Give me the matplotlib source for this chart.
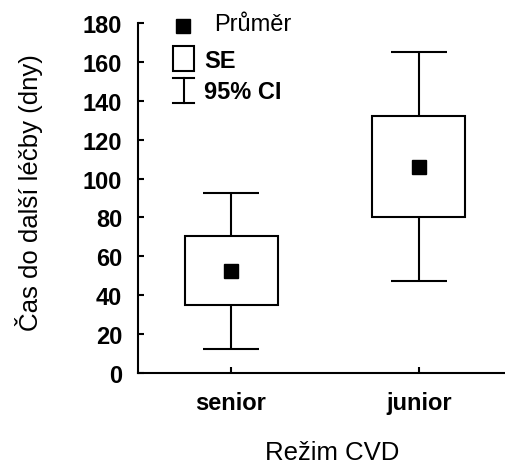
import numpy as np
import matplotlib.pyplot as plt
from matplotlib.patches import Rectangle

plt.rcParams['font.family'] = ['Liberation Sans', 'DejaVu Sans']

# data
groups = ['senior', 'junior']
mean = [52.5, 105.8]
se_lo = [35.0, 80.0]
se_hi = [70.3, 132.0]
ci_lo = [12.4, 47.3]
ci_hi = [92.7, 165.0]

x = np.arange(1, len(groups) + 1)

fig = plt.figure(figsize=(5.06, 4.64), dpi=100)
ax = fig.add_axes([0.272, 0.194, 0.728, 0.754])

lw = 1.5
box_w = 0.495
cap_w = 0.30

# SE boxes
ax.bar(x, np.array(se_hi) - np.array(se_lo), bottom=se_lo, width=box_w,
       facecolor='white', edgecolor='black', linewidth=lw, zorder=2)
# whiskers to 95% CI
ax.vlines(x, ci_lo, se_lo, colors='black', linewidth=lw, zorder=1)
ax.vlines(x, se_hi, ci_hi, colors='black', linewidth=lw, zorder=1)
ax.hlines(ci_lo, x - cap_w / 2, x + cap_w / 2, colors='black', linewidth=lw)
ax.hlines(ci_hi, x - cap_w / 2, x + cap_w / 2, colors='black', linewidth=lw)
# means
ax.plot(x, mean, 's', color='black', markersize=10, zorder=3)

ax.set_xlim(0.503, 2.463)
ax.set_ylim(0, 180)
ax.set_yticks(range(0, 181, 20))
ax.set_xticks(x)
ax.set_xticklabels(groups)

for s in ['top', 'right']:
    ax.spines[s].set_visible(False)
for s in ['left', 'bottom']:
    ax.spines[s].set_linewidth(lw)

ax.tick_params(axis='both', direction='in', length=4, width=lw,
               labelsize=17)
ax.tick_params(axis='y', pad=11)
ax.tick_params(axis='x', pad=13)
for lab in ax.get_xticklabels() + ax.get_yticklabels():
    lab.set_fontweight('bold')

ax.set_ylabel('Čas do další léčby (dny)', fontsize=18.5)
ax.yaxis.set_label_coords(-0.296, 0.519)
ax.yaxis.label.set_verticalalignment('center')
ax.set_xlabel('Režim CVD', fontsize=18.5)
ax.xaxis.set_label_coords(0.528, -0.225)
ax.xaxis.label.set_verticalalignment('center')

# hand-made legend
tr = ax.transAxes
ax.plot([0.1235], [0.991], 's', color='black', markersize=10,
        transform=tr, clip_on=False)
ax.text(0.207, 0.998, 'Průměr', fontsize=17, va='center', ha='left',
        transform=tr)
ax.add_patch(Rectangle((0.0963, 0.863), 0.057, 0.071, transform=tr,
                       facecolor='white', edgecolor='black', linewidth=lw,
                       clip_on=False))
ax.text(0.18, 0.893, 'SE', fontsize=17, fontweight='bold', va='center',
        ha='left', transform=tr)
ax.plot([0.1248, 0.1248], [0.771, 0.843], color='black', linewidth=lw,
        transform=tr, clip_on=False)
ax.plot([0.0963, 0.1533], [0.771, 0.771], color='black', linewidth=lw,
        transform=tr, clip_on=False)
ax.plot([0.0963, 0.1533], [0.843, 0.843], color='black', linewidth=lw,
        transform=tr, clip_on=False)
ax.text(0.18, 0.805, '95% CI', fontsize=17, fontweight='bold', va='center',
        ha='left', transform=tr)

fig.savefig('out.png', dpi=100)
